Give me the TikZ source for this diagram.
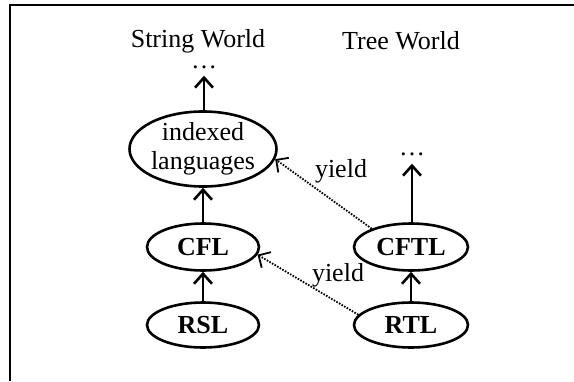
\documentclass[tikz,border=0pt]{standalone}
\usepackage{fontspec}
\setmainfont{Liberation Serif}
\usetikzlibrary{shapes.geometric,arrows.meta}
\begin{document}
\begin{tikzpicture}[x=1pt,y=-1pt,
  lang/.style={draw,ellipse,line width=2.6pt,inner sep=0pt,font=\fontsize{26}{29}\selectfont\bfseries},
  txt/.style={font=\fontsize{26}{29}\selectfont,inner sep=0pt},
  dotsnode/.style={font=\fontsize{26}{29}\selectfont,inner sep=0pt,text height=3pt,text depth=0pt},
  up/.style={line width=2.8pt,-{Straight Barb[length=10pt,width=18pt,line width=2.6pt]}},
  yld/.style={line width=1.8pt,dash pattern=on 1.6pt off 1.4pt,-{Straight Barb[length=9pt,width=18pt,line width=1.8pt]}}]
\useasboundingbox (0,0) rectangle (574,381);
\draw[line width=2.2pt] (10,381) -- (10,5) -- (574,5);
\node[txt] (sw) at (198,41) {String World};
\node[txt] (tw) at (401,41) {Tree World};
\node[dotsnode] (dl) at (204,67) {\dots};
\node[dotsnode] (dr) at (412,154) {\dots};
\node[lang,font=\fontsize{26}{28}\selectfont,align=center,minimum width=145pt,minimum height=75pt] (idx) at (203,149) {indexed\\[1pt]languages};
\node[lang,minimum width=112pt,minimum height=47pt] (cfl) at (203,247) {CFL};
\node[lang,minimum width=112pt,minimum height=45pt] (rsl) at (203,325) {RSL};
\node[lang,minimum width=114pt,minimum height=47pt] (cftl) at (411,247) {CFTL};
\node[lang,minimum width=114pt,minimum height=45pt] (rtl) at (411,325) {RTL};
\draw[up] (dl |- idx.north) -- ([yshift=-7pt]dl.south);
\draw[up] (cfl.north) -- (idx.south);
\draw[up] (rsl.north) -- (cfl.south);
\draw[up] (rtl.north) -- (cftl.south);
\draw[up] (dr |- cftl.north) -- ([yshift=-8pt]dr.south);
\draw[yld] (cftl.155) -- (idx.-8);
\draw[yld] (rtl.169) -- (cfl.-8);
\node[txt] (y1) at (341,171) {yield};
\node[txt] (y2) at (338,275) {yield};
\end{tikzpicture}
\end{document}
